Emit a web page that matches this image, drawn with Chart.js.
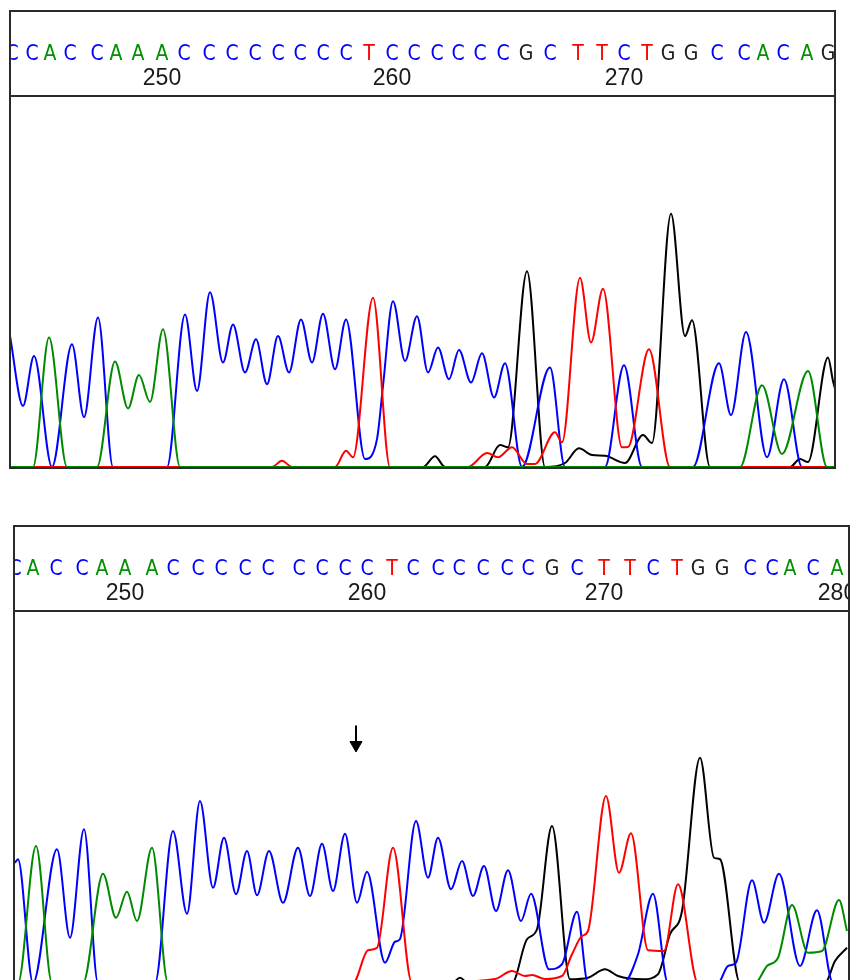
<!DOCTYPE html>
<html>
<head>
<meta charset="utf-8">
<title>Sequencing chromatogram</title>
<script src="https://cdn.jsdelivr.net/npm/chart.js@4.4.1/dist/chart.umd.min.js"></script>
<style>
  html, body { margin: 0; padding: 0; background: #fff; overflow: hidden; }
  .frame { position: absolute; border: 2px solid #2a2a2a; }
  #frame1 { left: 9px; top: 10px; width: 823px; height: 455px; }
  #frame2 { left: 13px; top: 525px; width: 833px; height: 456px; }
  canvas { display: block; }
</style>
</head>
<body>
<div class="frame" id="frame1"><canvas id="trace1" width="823" height="455"></canvas></div>
<div class="frame" id="frame2"><canvas id="trace2" width="833" height="456"></canvas></div>

<script>
// ---- Upper trace (reference) ----
const p1Bases = ['C','C','A','C','C','A','A','A','C','C','C','C','C','C','C','C','T','C','C','C','C','C','C','G','C','T','T','C','T','G','G','C','C','A','C','A','G'];
const p1BasePos = [2,22,40,60,87,106,128,152,174,199,222,245,268,290,313,336,359,382,404,427,448,470,493,516,540,568,592,614,637,658,681,707,734,753,773,797,818];
const p1NumPos = [152, 382, 614];
const p1NumLabels = ['250', '260', '270'];

const p1BlueScan = [0,13,24,42,62,74,88,103,157,175,187,200,213,223,235,246,257,268,279,291,302,313,325,336,355,367,373,383,395,407,418,428,439,449,461,472,484,495,512,540,555,595,614,632,683,709,721,736,757,774,792,825];
const p1BlueSignal = [525,245,445,0,492,200,600,0,0,612,305,701,419,572,379,512,332,525,379,592,419,615,392,592,32,112,325,665,425,605,379,479,352,469,339,456,279,416,0,399,0,0,408,0,0,416,208,541,39,352,0,0];
const p1GreenScan = [0,23,39,57,87,105,118,129,140,153,170,730,752,772,798,817,825];
const p1GreenSignal = [0,0,519,0,0,423,235,369,261,552,0,0,328,52,385,0,0];
const p1RedScan = [0,262,272,282,325,336,343,363,380,458,477,488,502,517,525,545,552,570,581,593,612,618,639,660,825];
const p1RedSignal = [0,0,25,0,0,65,39,679,0,0,56,39,79,12,12,139,99,759,499,715,79,80,472,0,0];
const p1BlackScan = [0,413,425,435,475,490,498,517,535,555,569,582,595,615,633,642,661,675,682,700,780,790,798,818,823,826];
const p1BlackSignal = [0,0,43,0,0,88,79,785,0,16,75,48,45,16,128,96,1016,525,589,0,0,32,20,439,345,300];

// ---- Lower trace (sample with the extra C) ----
const p2Bases = ['C','A','C','C','A','A','A','C','C','C','C','C','C','C','C','C','T','C','C','C','C','C','C','G','C','T','T','C','T','G','G','C','C','A','C','A'];
const p2BasePos = [1,19,42,68,88,111,138,159,184,207,231,254,285,308,331,353,378,399,424,445,469,493,514,538,563,590,616,639,663,684,708,736,758,776,799,823];
const p2NumPos = [111, 353, 590, 823];
const p2NumLabels = ['250', '260', '270', '280'];

const p2BlueScan = [1,4,19,43,56,70,84,141,159,173,186,199,210,222,233,243,255,269,284,296,308,319,331,343,353,371,381,386,402,414,424,437,448,459,470,482,494,507,517,535,548,563,574,609,624,639,654,704,714,722,738,750,765,786,803,819,834];
const p2BlueSignal = [481,495,0,535,181,615,0,0,608,277,728,381,581,355,528,351,528,321,541,348,557,368,597,321,445,81,165,176,648,421,581,375,488,348,468,288,451,248,357,55,75,285,0,0,115,357,0,0,68,81,411,241,437,68,291,0,0];
const p2GreenScan = [0,4,22,38,69,89,102,113,123,138,154,741,753,764,778,794,808,825,833];
const p2GreenSignal = [0,0,548,0,0,437,261,365,248,541,0,0,68,101,312,121,128,332,208];
const p2RedScan = [0,339,354,363,379,398,481,498,511,518,531,548,558,568,574,592,605,617,634,650,664,684,834];
const p2RedSignal = [0,0,131,141,541,0,16,48,28,32,16,28,115,188,208,748,441,599,131,128,395,0,0];
const p2BlackScan = [0,438,446,454,498,513,523,538,556,574,591,604,629,644,656,668,686,700,706,726,811,821,833];
const p2BlackSignal = [0,0,21,0,0,175,215,628,15,21,55,28,15,35,195,288,901,501,495,0,0,88,141];

// marker arrow over the inserted base
const arrowScan = [342, 342];
const arrowSignal = [1030, 952];

const signalMax = 1488;
const baseColors = { A: '#009000', C: '#0000ff', G: '#222222', T: '#ff0000' };
const traceColors = { A: '#008a00', C: '#0000ff', G: '#000000', T: '#ff0000' };

function zip(xs, ys) {
  return xs.map(function(x, i) { return { x: x, y: ys[i] }; });
}

function traceSet(xs, ys, color) {
  return {
    data: zip(xs, ys),
    borderColor: color,
    borderWidth: 2,
    pointRadius: 0,
    fill: false,
    cubicInterpolationMode: 'monotone',
    xAxisID: 'x',
    yAxisID: 'y'
  };
}

// top axis whose ticks are set from a list of scan positions
function labelAxis(opts) {
  return {
    type: 'linear',
    axis: 'x',
    position: 'top',
    min: opts.min,
    max: opts.max,
    weight: opts.weight,
    grid: { display: false, drawTicks: false },
    border: opts.border,
    afterBuildTicks: function(scale) {
      scale.ticks = opts.positions.map(function(v) { return { value: v }; });
    },
    afterFit: function(scale) {
      scale.height = opts.height;
      scale.paddingLeft = 0;
      scale.paddingRight = 0;
    },
    ticks: {
      autoSkip: false,
      maxRotation: 0,
      minRotation: 0,
      padding: opts.padding,
      font: opts.font,
      color: opts.color,
      callback: function(value, index) { return opts.labels[index]; }
    }
  };
}

function makeChart(canvasId, p) {
  const datasets = [
    traceSet(p.greenScan, p.greenSignal, traceColors.A),
    traceSet(p.redScan, p.redSignal, traceColors.T),
    traceSet(p.blueScan, p.blueSignal, traceColors.C),
    traceSet(p.blackScan, p.blackSignal, traceColors.G)
  ];

  if (p.arrow) {
    datasets.push({
      data: zip(arrowScan, arrowSignal),
      borderColor: '#000',
      backgroundColor: '#000',
      borderWidth: 2,
      tension: 0,
      pointRadius: [0, 7],
      pointStyle: 'triangle',
      rotation: 180,
      pointBackgroundColor: '#000',
      pointBorderColor: '#000',
      pointBorderWidth: 1,
      xAxisID: 'x',
      yAxisID: 'y'
    });
  }

  new Chart(document.getElementById(canvasId), {
    type: 'line',
    data: { datasets: datasets },
    options: {
      responsive: false,
      animation: false,
      events: [],
      layout: { padding: 0, autoPadding: false },
      plugins: {
        legend: { display: false },
        tooltip: { enabled: false }
      },
      scales: {
        x: { type: 'linear', min: p.min, max: p.max, display: false },
        y: { type: 'linear', min: 0, max: signalMax, display: false },
        seq: labelAxis({
          min: p.min, max: p.max, weight: 2, height: 55, padding: 0,
          positions: p.basePos, labels: p.bases,
          border: { display: false },
          font: { family: "'Liberation Sans Narrow', 'DejaVu Sans Condensed', 'Liberation Sans', sans-serif", size: 21 },
          color: function(ctx) { return baseColors[p.bases[ctx.index]]; }
        }),
        num: labelAxis({
          min: p.min, max: p.max, weight: 1, height: 29, padding: 4,
          positions: p.numPos, labels: p.numLabels,
          border: { display: true, color: '#2a2a2a', width: 2 },
          font: { family: "'Liberation Sans', Arial, sans-serif", size: 23 },
          color: '#1a1a1a'
        })
      }
    }
  });
}

document.addEventListener('DOMContentLoaded', function() {
  makeChart('trace1', {
    min: 1, max: 824,
    bases: p1Bases, basePos: p1BasePos, numPos: p1NumPos, numLabels: p1NumLabels,
    blueScan: p1BlueScan, blueSignal: p1BlueSignal,
    greenScan: p1GreenScan, greenSignal: p1GreenSignal,
    redScan: p1RedScan, redSignal: p1RedSignal,
    blackScan: p1BlackScan, blackSignal: p1BlackSignal,
    arrow: false
  });

  makeChart('trace2', {
    min: 1, max: 834,
    bases: p2Bases, basePos: p2BasePos, numPos: p2NumPos, numLabels: p2NumLabels,
    blueScan: p2BlueScan, blueSignal: p2BlueSignal,
    greenScan: p2GreenScan, greenSignal: p2GreenSignal,
    redScan: p2RedScan, redSignal: p2RedSignal,
    blackScan: p2BlackScan, blackSignal: p2BlackSignal,
    arrow: true
  });
});
</script>
</body>
</html>
